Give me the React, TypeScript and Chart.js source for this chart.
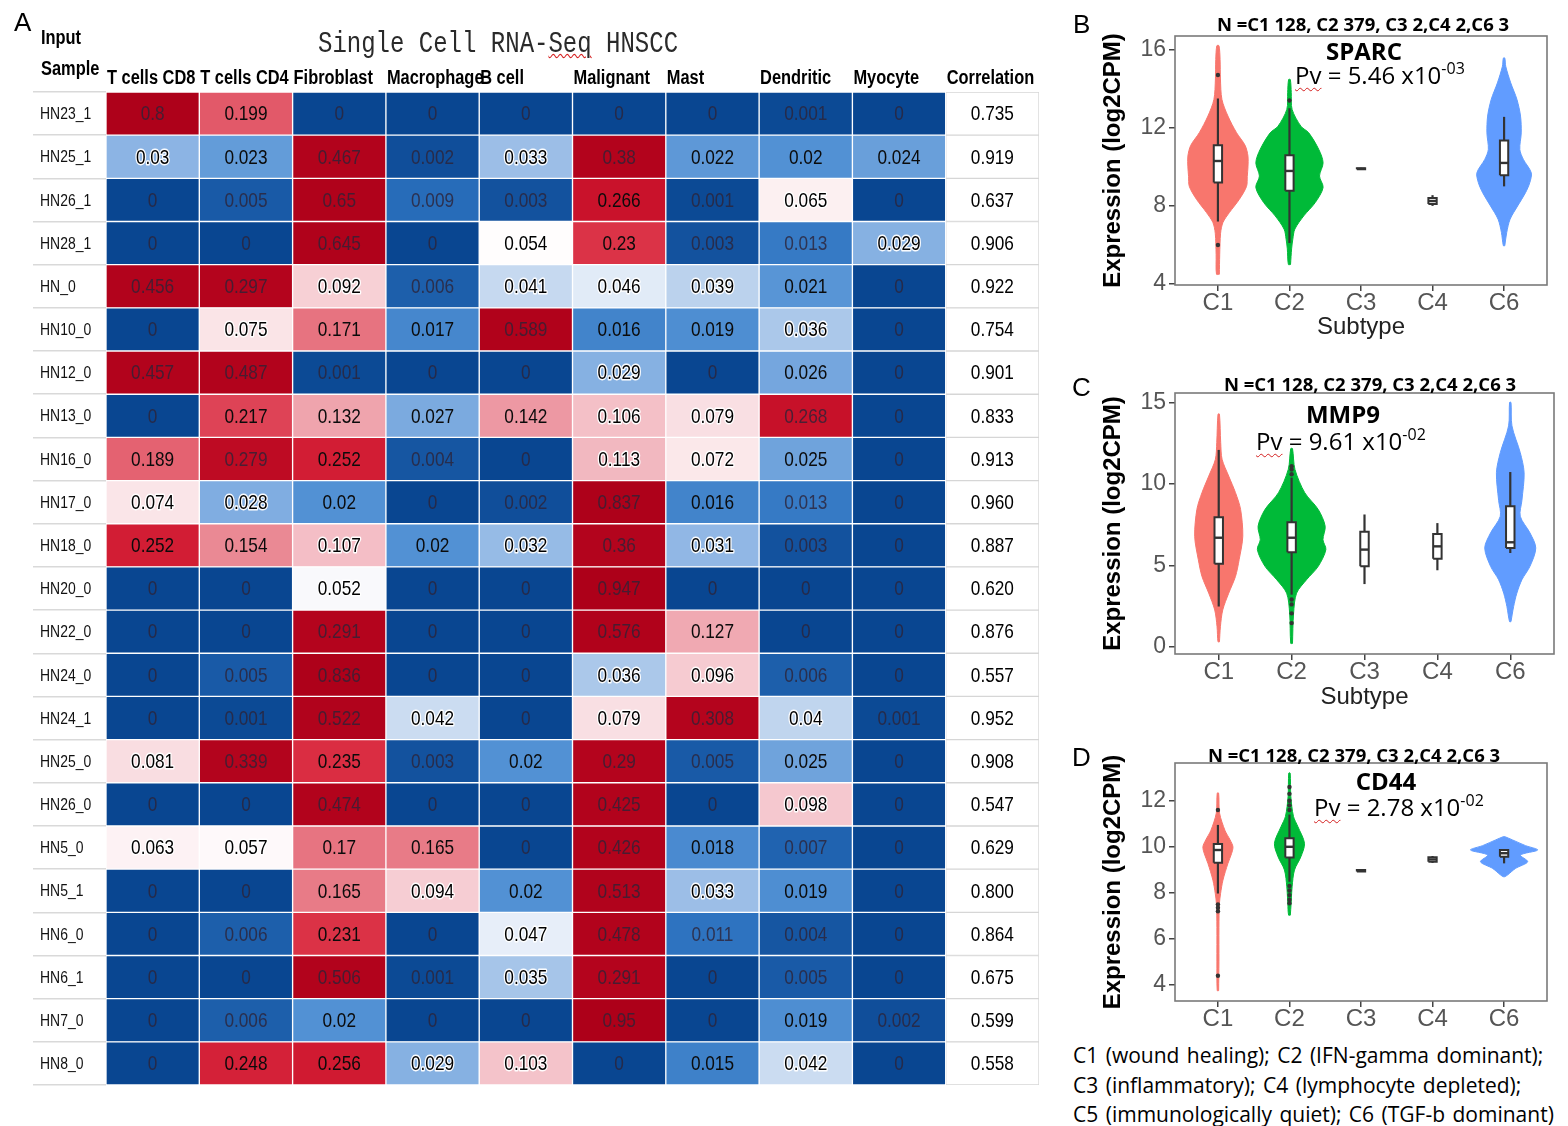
import React, { useEffect, useRef } from 'react';
import { Chart, registerables } from 'chart.js';

Chart.register(...registerables);

const SANS = "'Liberation Sans', Arial, sans-serif";
const CAL = "'Open Sans', 'Noto Sans', sans-serif";
const NARROW_SCALE = 0.82;

// ---------------- Heatmap data ----------------
const rowNames = ['HN23_1', 'HN25_1', 'HN26_1', 'HN28_1', 'HN_0', 'HN10_0', 'HN12_0', 'HN13_0', 'HN16_0', 'HN17_0', 'HN18_0', 'HN20_0', 'HN22_0', 'HN24_0', 'HN24_1', 'HN25_0', 'HN26_0', 'HN5_0', 'HN5_1', 'HN6_0', 'HN6_1', 'HN7_0', 'HN8_0'];
const colNames = ['T cells CD8', 'T cells CD4', 'Fibroblast', 'Macrophage', 'B cell', 'Malignant', 'Mast', 'Dendritic', 'Myocyte', 'Correlation'];

const tCD8 = [0.8, 0.03, 0, 0, 0.456, 0, 0.457, 0, 0.189, 0.074, 0.252, 0, 0, 0, 0, 0.081, 0, 0.063, 0, 0, 0, 0, 0];
const tCD4 = [0.199, 0.023, 0.005, 0, 0.297, 0.075, 0.487, 0.217, 0.279, 0.028, 0.154, 0, 0, 0.005, 0.001, 0.339, 0, 0.057, 0, 0.006, 0, 0.006, 0.248];
const fibroblast = [0, 0.467, 0.65, 0.645, 0.092, 0.171, 0.001, 0.132, 0.252, 0.02, 0.107, 0.052, 0.291, 0.836, 0.522, 0.235, 0.474, 0.17, 0.165, 0.231, 0.506, 0.02, 0.256];
const macrophage = [0, 0.002, 0.009, 0, 0.006, 0.017, 0, 0.027, 0.004, 0, 0.02, 0, 0, 0, 0.042, 0.003, 0, 0.165, 0.094, 0, 0.001, 0, 0.029];
const bCell = [0, 0.033, 0.003, 0.054, 0.041, 0.589, 0, 0.142, 0, 0.002, 0.032, 0, 0, 0, 0, 0.02, 0, 0, 0.02, 0.047, 0.035, 0, 0.103];
const malignant = [0, 0.38, 0.266, 0.23, 0.046, 0.016, 0.029, 0.106, 0.113, 0.837, 0.36, 0.947, 0.576, 0.036, 0.079, 0.29, 0.425, 0.426, 0.513, 0.478, 0.291, 0.95, 0];
const mast = [0, 0.022, 0.001, 0.003, 0.039, 0.019, 0, 0.079, 0.072, 0.016, 0.031, 0, 0.127, 0.096, 0.308, 0.005, 0, 0.018, 0.033, 0.011, 0, 0, 0.015];
const dendritic = [0.001, 0.02, 0.065, 0.013, 0.021, 0.036, 0.026, 0.268, 0.025, 0.013, 0.003, 0, 0, 0.006, 0.04, 0.025, 0.098, 0.007, 0.019, 0.004, 0.005, 0.019, 0.042];
const myocyte = [0, 0.024, 0, 0.029, 0, 0, 0, 0, 0, 0, 0, 0, 0, 0, 0.001, 0, 0, 0, 0, 0, 0, 0.002, 0];
const correlation = [0.735, 0.919, 0.637, 0.906, 0.922, 0.754, 0.901, 0.833, 0.913, 0.96, 0.887, 0.62, 0.876, 0.557, 0.952, 0.908, 0.547, 0.629, 0.8, 0.864, 0.675, 0.599, 0.558];

// ---------------- Violin data ----------------
const subtypeNames = ['C1', 'C2', 'C3', 'C4', 'C6'];

// SPARC
const sparcC1Y = [4.5, 5.5, 6.6, 7.15, 7.66, 8.34, 9.0, 9.5, 10.0, 10.55, 11.1, 11.75, 12.6, 13.45, 14.5, 15.5, 16.2];
const sparcC1W = [0.02, 0.025, 0.037, 0.07, 0.16, 0.3, 0.4, 0.41, 0.42, 0.42, 0.38, 0.26, 0.14, 0.056, 0.035, 0.03, 0.015];
const sparcC2Y = [5.0, 5.8, 6.3, 6.81, 7.49, 8.17, 8.94, 9.53, 10.21, 10.89, 11.74, 12.08, 12.94, 13.8, 14.47];
const sparcC2W = [0.015, 0.03, 0.047, 0.075, 0.2, 0.36, 0.47, 0.42, 0.47, 0.41, 0.27, 0.16, 0.037, 0.025, 0.012];
const sparcC6Y = [5.96, 6.64, 7.32, 8.0, 8.68, 9.2, 9.7, 10.38, 10.89, 11.74, 12.6, 13.45, 14.3, 15.15, 15.57];
const sparcC6W = [0.01, 0.037, 0.084, 0.19, 0.3, 0.36, 0.38, 0.27, 0.22, 0.24, 0.23, 0.18, 0.093, 0.023, 0.01];
const sparcLow = [7.2, 6.1, 9.85, 8.0, 9.0];
const sparcQ1 = [9.2, 8.77, 9.88, 8.1, 9.57];
const sparcMed = [10.3, 9.79, 9.9, 8.25, 10.2];
const sparcQ3 = [11.1, 10.6, 9.93, 8.4, 11.35];
const sparcHigh = [13.5, 13.0, 9.95, 8.55, 12.56];
const sparcOutPos = [1, 1, 2];
const sparcOutVal = [14.7, 6.0, 13.4];

// MMP9
const mmp9C1Y = [0.3, 1.23, 2.26, 3.29, 4.32, 5.35, 6.79, 8.44, 9.47, 10.49, 11.52, 12.55, 14.3];
const mmp9C1W = [0.01, 0.023, 0.055, 0.137, 0.23, 0.28, 0.33, 0.3, 0.23, 0.137, 0.046, 0.027, 0.01];
const mmp9C2Y = [0.2, 2.06, 3.29, 4.12, 4.94, 5.97, 6.58, 7.41, 8.44, 9.47, 10.9, 12.18];
const mmp9C2W = [0.012, 0.027, 0.068, 0.205, 0.365, 0.47, 0.43, 0.46, 0.365, 0.18, 0.046, 0.012];
const mmp9C6Y = [1.54, 2.47, 3.29, 4.12, 4.94, 6.07, 7.0, 8.02, 9.0, 10.7, 11.93, 13.58, 15.02];
const mmp9C6W = [0.01, 0.046, 0.09, 0.16, 0.27, 0.35, 0.27, 0.137, 0.16, 0.19, 0.137, 0.023, 0.01];
const mmp9Low = [2.47, 3.2, 3.85, 4.7, 5.76];
const mmp9Q1 = [5.1, 5.8, 4.94, 5.4, 6.07];
const mmp9Med = [6.7, 6.7, 5.97, 6.17, 6.42];
const mmp9Q3 = [7.96, 7.65, 7.06, 6.93, 8.64];
const mmp9High = [12.1, 10.4, 8.13, 7.6, 10.74];
const mmp9OutPos = [2, 2, 2, 2, 2, 2, 2];
const mmp9OutVal = [10.6, 10.9, 11.1, 2.9, 2.6, 2.05, 1.45];

// CD44
const cd44C1Y = [3.75, 5.0, 6.5, 7.5, 7.97, 8.55, 9.28, 9.7, 10.0, 10.3, 10.7, 11.46, 12.33];
const cd44C1W = [0.01, 0.014, 0.014, 0.02, 0.037, 0.07, 0.14, 0.19, 0.21, 0.17, 0.1, 0.023, 0.01];
const cd44C2Y = [7.03, 7.53, 8.26, 8.99, 9.57, 10.15, 10.88, 11.32, 12.19, 13.2];
const cd44C2W = [0.012, 0.023, 0.037, 0.07, 0.16, 0.21, 0.117, 0.056, 0.019, 0.01];
const cd44C6Y = [8.7, 8.77, 9.06, 9.35, 9.64, 9.86, 10.05, 10.3, 10.44];
const cd44C6W = [0.01, 0.047, 0.16, 0.33, 0.23, 0.47, 0.3, 0.117, 0.01];
const cd44Low = [7.97, 8.48, 8.93, 9.3, 9.28];
const cd44Q1 = [9.31, 9.53, 8.93, 9.35, 9.57];
const cd44Med = [9.86, 10.0, 8.96, 9.45, 9.72];
const cd44Q3 = [10.12, 10.37, 8.99, 9.55, 9.86];
const cd44High = [10.95, 11.4, 8.99, 9.6, 9.9];
const cd44OutPos = [1, 1, 1, 1, 1, 2, 2, 2, 2, 2, 2, 2, 2, 2, 2];
const cd44OutVal = [11.6, 7.5, 7.35, 7.2, 4.4, 11.6, 11.8, 12.0, 12.3, 12.6, 8.3, 8.1, 7.9, 7.7, 7.55];

// ---------------- Colour helpers ----------------
const heatStops: number[][] = [
  [0, 9, 70, 145],
  [0.004, 22, 86, 162],
  [0.01, 42, 112, 190],
  [0.02, 82, 145, 212],
  [0.03, 140, 180, 228],
  [0.04, 192, 213, 238],
  [0.048, 236, 242, 250],
  [0.054, 255, 253, 253],
  [0.075, 250, 228, 231],
  [0.1, 245, 198, 205],
  [0.14, 237, 155, 165],
  [0.17, 231, 116, 129],
  [0.2, 226, 88, 104],
  [0.235, 218, 45, 66],
  [0.26, 206, 22, 46],
  [0.29, 180, 4, 29],
  [1, 172, 0, 25],
];

function cellRgb(v: number): number[] {
  if (v <= heatStops[0][0]) return heatStops[0].slice(1);
  for (let k = 1; k < heatStops.length; k++) {
    const a = heatStops[k - 1];
    const b = heatStops[k];
    if (v <= b[0]) {
      const t = (v - a[0]) / (b[0] - a[0]);
      return [1, 2, 3].map((c) => Math.round(a[c] + (b[c] - a[c]) * t));
    }
  }
  return heatStops[heatStops.length - 1].slice(1);
}
const rgbStr = (c: number[]) => `rgb(${c[0]},${c[1]},${c[2]})`;

function narrowText(ctx: any, txt: string, x: number, y: number, stroke = false) {
  ctx.save();
  ctx.translate(x, y);
  ctx.scale(NARROW_SCALE, 1);
  if (stroke) ctx.strokeText(txt, 0, 0);
  ctx.fillText(txt, 0, 0);
  ctx.restore();
}

// ---------------- Heatmap config ----------------
function heatmapConfig(): any {
  const columns = [tCD8, tCD4, fibroblast, macrophage, bCell, malignant, mast, dendritic, myocyte, correlation];
  const last = columns.length - 1;
  const datasets = columns.map((col, j) => ({
    label: colNames[j],
    data: col.map(() => [j, j + 1]),
    backgroundColor: j === last ? col.map(() => '#ffffff') : col.map((v) => rgbStr(cellRgb(v))),
    borderColor: j === last ? '#d6d6d6' : '#ffffff',
    borderWidth: 1,
    borderSkipped: false,
    grouped: false,
    barPercentage: 1,
    categoryPercentage: 1,
  }));

  const textPlugin = {
    id: 'cellText',
    afterDatasetsDraw(chart: any) {
      const ctx = chart.ctx;
      const xs = chart.scales.x;
      const ys = chart.scales.y;
      ctx.save();
      // column headers
      ctx.font = `bold 20px ${SANS}`;
      ctx.textAlign = 'left';
      ctx.textBaseline = 'alphabetic';
      ctx.fillStyle = '#000';
      colNames.forEach((name, j) => {
        narrowText(ctx, name, xs.getPixelForValue(j) + 1, chart.chartArea.top - 8);
      });
      // row labels
      ctx.font = `17px ${SANS}`;
      ctx.textBaseline = 'middle';
      ctx.fillStyle = '#111';
      rowNames.forEach((name, i) => {
        narrowText(ctx, name, ys.left, ys.getPixelForValue(i) + 1);
      });
      // cell values
      ctx.font = `21px ${SANS}`;
      ctx.textAlign = 'center';
      ctx.textBaseline = 'middle';
      columns.forEach((col, j) => {
        const meta = chart.getDatasetMeta(j);
        meta.data.forEach((el: any, i: number) => {
          const v = col[i];
          const txt = j === last ? v.toFixed(3) : String(v);
          const cx = (el.x + el.base) / 2;
          const cy = el.y + 1;
          if (j === last) {
            ctx.fillStyle = '#000';
            narrowText(ctx, txt, cx, cy);
            return;
          }
          let stroke = false;
          if (v >= 0.028 && v <= 0.12) {
            ctx.strokeStyle = 'rgba(255,255,255,0.95)';
            ctx.lineWidth = 3;
            ctx.lineJoin = 'round';
            stroke = true;
            ctx.fillStyle = '#000';
          } else if (v >= 0.014 && v <= 0.267) {
            ctx.fillStyle = '#0b0b0b';
          } else {
            ctx.fillStyle = 'rgba(45,35,55,0.8)';
          }
          narrowText(ctx, txt, cx, cy, stroke);
        });
      });
      ctx.restore();
    },
  };

  return {
    type: 'bar',
    data: { labels: rowNames, datasets },
    options: {
      indexAxis: 'y',
      responsive: false,
      animation: false,
      devicePixelRatio: 1,
      layout: { padding: { left: 40, right: 11, top: 60, bottom: 15 } },
      plugins: { legend: { display: false }, tooltip: { enabled: false } },
      scales: {
        x: {
          type: 'linear',
          position: 'top',
          min: 0,
          max: 10,
          afterBuildTicks: (s: any) => {
            s.ticks = colNames.map((_, i) => ({ value: i }));
          },
          afterFit: (s: any) => {
            s.height = 32;
          },
          grid: { display: false, drawTicks: false },
          border: { display: false },
          ticks: { display: false },
        },
        y: {
          type: 'category',
          afterFit: (s: any) => {
            s.width = 66;
          },
          grid: { display: true, drawOnChartArea: false, drawTicks: true, tickLength: 73, color: '#d9d9d9', offset: true, lineWidth: 1.5 },
          border: { display: false },
          ticks: { display: false, autoSkip: false },
        },
      },
    },
    plugins: [textPlugin],
  };
}

// ---------------- Violin panel config ----------------
type ViolinSpec = { pos: number; color: string; ys: number[]; ws: number[] };
type PanelSpec = {
  violins: ViolinSpec[];
  low: number[];
  q1: number[];
  med: number[];
  q3: number[];
  high: number[];
  outPos: number[];
  outVal: number[];
  yMin: number;
  yMax: number;
  yTicks: number[];
  padding: { left: number; right: number; top: number; bottom: number };
  xHeight: number;
  showXTitle: boolean;
  xTitlePad: number;
};

const BOX_HALF = 0.058;

const framePlugin = {
  id: 'frame',
  afterDatasetsDraw(chart: any) {
    const { ctx, chartArea: a } = chart;
    ctx.save();
    ctx.strokeStyle = '#7a7a7a';
    ctx.lineWidth = 1.6;
    ctx.strokeRect(a.left, a.top, a.right - a.left, a.bottom - a.top);
    ctx.restore();
  },
};

function genePanelConfig(p: PanelSpec): any {
  const datasets: any[] = [];
  p.violins.forEach((v) => {
    const right = v.ys.map((y, i) => ({ x: v.pos + v.ws[i], y }));
    const left = v.ys.map((y, i) => ({ x: v.pos - v.ws[i], y })).reverse();
    datasets.push({
      data: [...right, ...left, right[0]],
      showLine: true,
      fill: 'shape',
      backgroundColor: v.color,
      borderColor: v.color,
      borderWidth: 1,
      pointRadius: 0,
      tension: 0.3,
      order: 5,
    });
  });
  subtypeNames.forEach((_, i) => {
    const pos = i + 1;
    datasets.push({
      data: [
        { x: pos, y: p.low[i] },
        { x: pos, y: p.high[i] },
      ],
      showLine: true,
      borderColor: '#333333',
      borderWidth: 2.2,
      pointRadius: 0,
      order: 4,
    });
    datasets.push({
      data: [
        { x: pos - BOX_HALF, y: p.q1[i] },
        { x: pos + BOX_HALF, y: p.q1[i] },
        { x: pos + BOX_HALF, y: p.q3[i] },
        { x: pos - BOX_HALF, y: p.q3[i] },
        { x: pos - BOX_HALF, y: p.q1[i] },
      ],
      showLine: true,
      fill: 'shape',
      backgroundColor: '#ffffff',
      borderColor: '#333333',
      borderWidth: 2,
      pointRadius: 0,
      tension: 0,
      order: 3,
    });
    datasets.push({
      data: [
        { x: pos - BOX_HALF, y: p.med[i] },
        { x: pos + BOX_HALF, y: p.med[i] },
      ],
      showLine: true,
      borderColor: '#333333',
      borderWidth: 2.4,
      pointRadius: 0,
      order: 2,
    });
  });
  datasets.push({
    data: p.outPos.map((x, k) => ({ x, y: p.outVal[k] })),
    showLine: false,
    pointRadius: 2.2,
    pointBackgroundColor: '#333333',
    pointBorderWidth: 0,
    order: 1,
  });

  return {
    type: 'scatter',
    data: { datasets },
    options: {
      responsive: false,
      animation: false,
      devicePixelRatio: 1,
      layout: { padding: p.padding },
      plugins: { legend: { display: false }, tooltip: { enabled: false } },
      scales: {
        x: {
          type: 'linear',
          min: 0.4,
          max: 5.6,
          afterBuildTicks: (s: any) => {
            s.ticks = subtypeNames.map((_, i) => ({ value: i + 1 }));
          },
          afterFit: (s: any) => {
            s.height = p.xHeight;
          },
          grid: { display: true, drawOnChartArea: false, drawTicks: true, tickLength: 6, color: '#444', lineWidth: 1.5 },
          border: { display: false },
          ticks: {
            autoSkip: false,
            maxRotation: 0,
            padding: 0,
            color: '#555555',
            font: { family: SANS, size: 24, lineHeight: 1 },
            callback: (_v: any, i: number) => subtypeNames[i],
          },
          title: {
            display: p.showXTitle,
            text: 'Subtype',
            color: '#222',
            font: { family: SANS, size: 24, lineHeight: 1 },
            padding: { top: 0, bottom: p.xTitlePad },
          },
        },
        y: {
          type: 'linear',
          min: p.yMin,
          max: p.yMax,
          afterBuildTicks: (s: any) => {
            s.ticks = p.yTicks.map((v) => ({ value: v }));
          },
          afterFit: (s: any) => {
            s.width = 105 - (p.padding.left || 0);
          },
          grid: { display: true, drawOnChartArea: false, drawTicks: true, tickLength: 6, color: '#444', lineWidth: 1.5 },
          border: { display: false },
          ticks: { padding: 3, color: '#555555', font: { family: SANS, size: 23 } },
          title: {
            display: true,
            text: 'Expression (log2CPM)',
            color: '#000',
            font: { family: SANS, size: 24, weight: 'bold', lineHeight: 1 },
            padding: { top: 31, bottom: 0 },
          },
        },
      },
    },
    plugins: [framePlugin],
  };
}

const sparcConfig = () =>
  genePanelConfig({
    violins: [
      { pos: 1, color: '#F8766D', ys: sparcC1Y, ws: sparcC1W },
      { pos: 2, color: '#00BA38', ys: sparcC2Y, ws: sparcC2W },
      { pos: 5, color: '#619CFF', ys: sparcC6Y, ws: sparcC6W },
    ],
    low: sparcLow,
    q1: sparcQ1,
    med: sparcMed,
    q3: sparcQ3,
    high: sparcHigh,
    outPos: sparcOutPos,
    outVal: sparcOutVal,
    yMin: 3.95,
    yMax: 16.7,
    yTicks: [4, 8, 12, 16],
    padding: { left: 0, right: 21, top: 36, bottom: 5 },
    xHeight: 55,
    showXTitle: true,
    xTitlePad: 1,
  });

const mmp9Config = () =>
  genePanelConfig({
    violins: [
      { pos: 1, color: '#F8766D', ys: mmp9C1Y, ws: mmp9C1W },
      { pos: 2, color: '#00BA38', ys: mmp9C2Y, ws: mmp9C2W },
      { pos: 5, color: '#619CFF', ys: mmp9C6Y, ws: mmp9C6W },
    ],
    low: mmp9Low,
    q1: mmp9Q1,
    med: mmp9Med,
    q3: mmp9Q3,
    high: mmp9High,
    outPos: mmp9OutPos,
    outVal: mmp9OutVal,
    yMin: -0.45,
    yMax: 15.6,
    yTicks: [0, 5, 10, 15],
    padding: { left: 0, right: 14, top: 33, bottom: 6 },
    xHeight: 55,
    showXTitle: true,
    xTitlePad: 0,
  });

const cd44Config = () =>
  genePanelConfig({
    violins: [
      { pos: 1, color: '#F8766D', ys: cd44C1Y, ws: cd44C1W },
      { pos: 2, color: '#00BA38', ys: cd44C2Y, ws: cd44C2W },
      { pos: 5, color: '#619CFF', ys: cd44C6Y, ws: cd44C6W },
    ],
    low: cd44Low,
    q1: cd44Q1,
    med: cd44Med,
    q3: cd44Q3,
    high: cd44High,
    outPos: cd44OutPos,
    outVal: cd44OutVal,
    yMin: 3.3,
    yMax: 13.64,
    yTicks: [4, 6, 8, 10, 12],
    padding: { left: 0, right: 21, top: 33, bottom: 2 },
    xHeight: 27,
    showXTitle: false,
    xTitlePad: 0,
  });

// ---------------- Components ----------------
function ChartCanvas(props: { make: () => any; left: number; top: number; width: number; height: number }) {
  const ref = useRef<HTMLCanvasElement>(null);
  useEffect(() => {
    const chart = new Chart(ref.current as HTMLCanvasElement, props.make());
    return () => chart.destroy();
  }, []);
  return (
    <canvas
      ref={ref}
      width={props.width}
      height={props.height}
      style={{ position: 'absolute', left: props.left, top: props.top, width: props.width, height: props.height }}
    />
  );
}

const abs = (left: number, top: number, extra: any = {}): any => ({
  position: 'absolute',
  left,
  top,
  whiteSpace: 'nowrap',
  lineHeight: 1,
  color: '#000',
  ...extra,
});

function Centered(props: { cx: number; top: number; font: string; children: any }) {
  return (
    <div style={abs(props.cx - 250, props.top, { width: 500, textAlign: 'center', font: props.font, lineHeight: 1 })}>
      {props.children}
    </div>
  );
}

function PvText(props: { left: number; top: number; value: string; exp: string }) {
  return (
    <div style={abs(props.left, props.top, { font: `24px ${CAL}`, lineHeight: 1 })}>
      <span style={{ textDecoration: 'underline wavy #d42020', textDecorationThickness: '1px', textUnderlineOffset: '3px' }}>Pv</span>
      {` = ${props.value} x10`}
      <span style={{ fontSize: 16, position: 'relative', top: -10 }}>{props.exp}</span>
    </div>
  );
}

const narrowStyle = { transform: `scaleX(${NARROW_SCALE})`, transformOrigin: 'top left' };

export default function App() {
  const nText = 'N =C1 128, C2 379, C3 2,C4 2,C6 3';
  return (
    <div style={{ position: 'absolute', left: 0, top: 0, width: 1568, height: 1126, background: '#fff', overflow: 'hidden' }}>
      <ChartCanvas make={heatmapConfig} left={0} top={0} width={1050} height={1100} />
      <ChartCanvas make={sparcConfig} left={1070} top={0} width={498} height={345} />
      <ChartCanvas make={mmp9Config} left={1070} top={360} width={498} height={355} />
      <ChartCanvas make={cd44Config} left={1070} top={730} width={498} height={300} />

      {/* Panel A texts */}
      <div style={abs(14, 7, { font: `26px ${SANS}` })}>A</div>
      <div
        style={abs(318, 28, {
          font: "24px 'Liberation Mono', 'DejaVu Sans Mono', monospace",
          color: '#2a2a2a',
          transform: 'scaleY(1.2)',
          transformOrigin: 'top left',
        })}
      >
        Single Cell RNA-
        <span style={{ textDecoration: 'underline wavy #d42020', textDecorationThickness: '1px' }}>Seq</span> HNSCC
      </div>
      <div style={abs(41, 26, { font: `bold 20px ${SANS}`, ...narrowStyle })}>Input</div>
      <div style={abs(41, 57, { font: `bold 20px ${SANS}`, ...narrowStyle })}>Sample</div>

      {/* Panel letters */}
      <div style={abs(1073, 9, { font: `26px ${SANS}` })}>B</div>
      <div style={abs(1072, 372, { font: `26px ${SANS}` })}>C</div>
      <div style={abs(1072, 742, { font: `26px ${SANS}` })}>D</div>

      {/* Panel B annotations */}
      <Centered cx={1363} top={11} font={`bold 18.5px ${CAL}`}>{nText}</Centered>
      <Centered cx={1364} top={34} font={`bold 24px ${CAL}`}>SPARC</Centered>
      <PvText left={1295} top={58} value="5.46" exp="-03" />

      {/* Panel C annotations */}
      <Centered cx={1370} top={371} font={`bold 18.5px ${CAL}`}>{nText}</Centered>
      <Centered cx={1343} top={397} font={`bold 24px ${CAL}`}>MMP9</Centered>
      <PvText left={1256} top={424} value="9.61" exp="-02" />

      {/* Panel D annotations */}
      <Centered cx={1354} top={742} font={`bold 18.5px ${CAL}`}>{nText}</Centered>
      <Centered cx={1386} top={764} font={`bold 24px ${CAL}`}>CD44</Centered>
      <PvText left={1314} top={790} value="2.78" exp="-02" />

      {/* Subtype legend */}
      <div style={abs(1073, 1041, { font: `21px ${CAL}`, wordSpacing: 2 })}>
        <div style={{ lineHeight: '29.5px' }}>C1 (wound healing); C2 (IFN-gamma dominant);</div>
        <div style={{ lineHeight: '29.5px' }}>C3 (inflammatory); C4 (lymphocyte depleted);</div>
        <div style={{ lineHeight: '29.5px' }}>C5 (immunologically quiet); C6 (TGF-b dominant)</div>
      </div>
    </div>
  );
}
